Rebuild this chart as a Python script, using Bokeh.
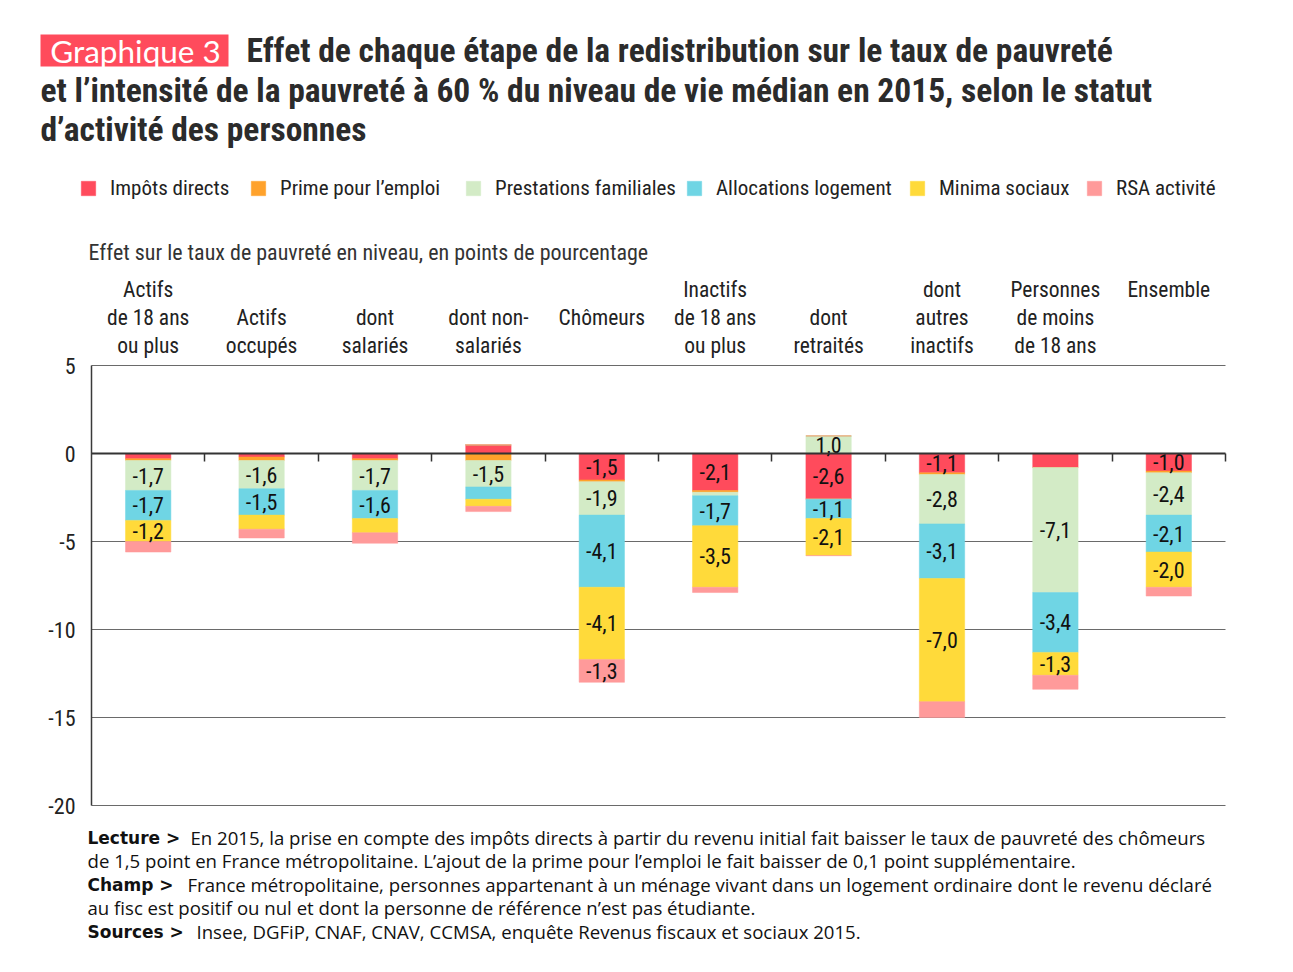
from bokeh.plotting import figure
from bokeh.models import (ColumnDataSource, Range1d, FixedTicker, Label, Legend,
                          LegendItem, LinearAxis, Grid, BoxAnnotation)
from bokeh.embed import file_html
from bokeh.resources import INLINE
from bokeh.core.properties import value

# ---------------- data ----------------
categories = ["Actifs de 18 ans ou plus", "Actifs occupés", "dont salariés",
              "dont non-salariés", "Chômeurs", "Inactifs de 18 ans ou plus",
              "dont retraités", "dont autres inactifs", "Personnes de moins de 18 ans",
              "Ensemble"]
category_label_rows = [
    ["Actifs", "de 18 ans", "ou plus"],
    ["", "Actifs", "occupés"],
    ["", "dont", "salariés"],
    ["", "dont non-", "salariés"],
    ["", "Chômeurs", ""],
    ["Inactifs", "de 18 ans", "ou plus"],
    ["", "dont", "retraités"],
    ["dont", "autres", "inactifs"],
    ["Personnes", "de moins", "de 18 ans"],
    ["Ensemble", "", ""],
]
series_names = ["Impôts directs", "Prime pour l’emploi", "Prestations familiales",
                "Allocations logement", "Minima sociaux", "RSA activité"]
impots_directs = [-0.3, -0.2, -0.3, 0.5, -1.5, -2.1, -2.6, -1.1, -0.8, -1.0]
prime_emploi = [-0.1, -0.2, -0.1, -0.4, -0.1, -0.1, 0.0, -0.1, 0.0, -0.1]
prestations_familiales = [-1.7, -1.6, -1.7, -1.5, -1.9, -0.2, 1.0, -2.8, -7.1, -2.4]
allocations_logement = [-1.7, -1.5, -1.6, -0.7, -4.1, -1.7, -1.1, -3.1, -3.4, -2.1]
minima_sociaux = [-1.2, -0.8, -0.8, -0.4, -4.1, -3.5, -2.1, -7.0, -1.3, -2.0]
rsa_activite = [-0.6, -0.5, -0.6, -0.3, -1.3, -0.3, 0.0, -0.9, -0.8, -0.5]
y_ticks = [5, 0, -5, -10, -15, -20]
y_tick_labels = ["5", "0", "-5", "-10", "-15", "-20"]

series_values = [impots_directs, prime_emploi, prestations_familiales,
                 allocations_logement, minima_sociaux, rsa_activite]
colors = ["#FF4B5C", "#FFA22B", "#D3EBC6", "#6FD5E4", "#FFDA3A", "#FF9A9A"]

NARROW = "Roboto Condensed"
TXT = "#222222"

# ---------------- layout (page pixels) ----------------
W, H = 1290, 965
X_LEFT, X_RIGHT = 91, 1225        # plot area left / right edge
Y_TOP, Y_BOTTOM = 365, 805        # pixel rows of the top and bottom ticks
n = len(categories)
ux = (X_RIGHT - X_LEFT) / n
ymax, ymin = max(y_ticks), min(y_ticks)
uy = (Y_BOTTOM - Y_TOP) / (ymax - ymin)
xs = [i + 0.5 for i in range(n)]


def sy(page_y):
    return H - page_y


p = figure(width=W, height=H, output_backend="svg", toolbar_location=None,
           x_range=Range1d(-X_LEFT / ux, (W - X_LEFT) / ux),
           y_range=Range1d(ymax - (H - Y_TOP) / uy, ymax + Y_TOP / uy),
           x_axis_location=None, y_axis_location=None, title=None,
           min_border_left=0, min_border_right=0, min_border_top=0, min_border_bottom=0)
p.outline_line_color = None
p.background_fill_color = "white"
p.border_fill_color = "white"
# drop the default grids (they would span the whole canvas)
p.center = [r for r in p.center if not isinstance(r, Grid)]

# horizontal grid limited to the plot area
grid = Grid(dimension=1, ticker=FixedTicker(ticks=[t for t in y_ticks if t != 0]),
            grid_line_color="#6a6a6a", grid_line_width=1)
grid.cross_bounds = (0, n)
p.add_layout(grid)

# y axis
yax = LinearAxis(fixed_location=0, ticker=FixedTicker(ticks=y_ticks),
                 bounds=(ymin, ymax))
yax.major_label_overrides = {t: l for t, l in zip(y_ticks, y_tick_labels)}
yax.major_tick_line_color = None
yax.minor_tick_line_color = None
yax.axis_line_color = "#3a3a3a"
yax.axis_line_width = 1.5
yax.major_label_text_font = NARROW
yax.major_label_text_font_size = "22px"
yax.major_label_text_color = TXT
yax.major_label_standoff = 10
p.add_layout(yax, "left")

# stacked bars (positive and negative parts stacked separately)
keys = ["s%d" % k for k in range(len(series_values))]
pos_data = {"x": xs}
neg_data = {"x": xs}
for k, vals in zip(keys, series_values):
    pos_data[k] = [max(v, 0.0) for v in vals]
    neg_data[k] = [min(v, 0.0) for v in vals]

p.vbar_stack(keys, x="x", width=0.4, source=ColumnDataSource(pos_data),
             fill_color=colors, line_color=colors, line_width=0.5)
neg_r = p.vbar_stack(keys, x="x", width=0.4, source=ColumnDataSource(neg_data),
                     fill_color=colors, line_color=colors, line_width=0.5)

# value labels
lx, ly, lt = [], [], []
for i in range(n):
    pos_acc, neg_acc = 0.0, 0.0
    for vals in series_values:
        v = vals[i]
        if v >= 0:
            c = pos_acc + v / 2
            pos_acc += v
        else:
            c = neg_acc + v / 2
            neg_acc += v
        if abs(v) >= 1.0 - 1e-9:
            lx.append(xs[i])
            ly.append(c)
            lt.append(("%.1f" % v).replace(".", ","))
p.text(x="x", y="y", text="t", source=ColumnDataSource(dict(x=lx, y=ly, t=lt)),
       text_align="center", text_baseline="middle", text_font=value(NARROW),
       text_font_size="22px", text_color="#111111")

# zero line with ticks at category boundaries
xax = LinearAxis(fixed_location=0, ticker=FixedTicker(ticks=[i + 1 for i in range(n)]),
                 bounds=(0, n))
xax.axis_line_color = "#333333"
xax.axis_line_width = 2
xax.major_tick_line_color = "#333333"
xax.major_tick_line_width = 1.5
xax.major_tick_in = 0
xax.major_tick_out = 8
xax.minor_tick_line_color = None
xax.major_label_text_alpha = 0
xax.major_label_text_font_size = "1px"
p.add_layout(xax, "below")

# category labels above the plot area
row_y = [289, 317, 345]
cx, cy, ct = [], [], []
for i, rows in enumerate(category_label_rows):
    for r, t in enumerate(rows):
        if t:
            cx.append(xs[i])
            cy.append(ymax + (Y_TOP - row_y[r]) / uy)
            ct.append(t)
p.text(x="x", y="y", text="t", source=ColumnDataSource(dict(x=cx, y=cy, t=ct)),
       text_align="center", text_baseline="middle", text_font=value(NARROW),
       text_font_size="21.5px", text_color=TXT)

# legends
leg_x = [79, 249, 464, 685, 908, 1085]
for k, name in enumerate(series_names):
    leg = Legend(items=[LegendItem(label=name, renderers=[neg_r[k]])],
                 location=(leg_x[k], sy(200)), orientation="horizontal",
                 glyph_width=18, glyph_height=18, label_standoff=13,
                 padding=0, margin=0, spacing=0, border_line_color=None,
                 background_fill_alpha=0, label_text_font=NARROW,
                 label_text_font_size="21px", label_text_color=TXT,
                 label_height=18)
    p.add_layout(leg, "center")

# axis title
p.add_layout(Label(x=88, y=sy(252), x_units="screen", y_units="screen",
                   text="Effet sur le taux de pauvreté en niveau, en points de pourcentage",
                   text_font=NARROW, text_font_size="22px", text_color="#333333",
                   text_baseline="middle"))

# title
p.add_layout(BoxAnnotation(left=40, right=228, top=sy(34), bottom=sy(66),
                           left_units="screen", right_units="screen",
                           top_units="screen", bottom_units="screen",
                           fill_color="#FF4B5C", fill_alpha=1, line_color=None,
                           level="annotation"))
p.add_layout(Label(x=135, y=sy(50), x_units="screen", y_units="screen",
                   text="Graphique 3", text_font="Lato", text_font_size="31.5px",
                   text_color="white", text_align="center", text_baseline="middle"))
title_lines = ["Effet de chaque étape de la redistribution sur le taux de pauvreté",
               "et l’intensité de la pauvreté à 60 % du niveau de vie médian en 2015, selon le statut",
               "d’activité des personnes"]
title_pos = [(246, 50), (40, 90), (40, 129)]
for t, (tx, ty) in zip(title_lines, title_pos):
    p.add_layout(Label(x=tx, y=sy(ty), x_units="screen", y_units="screen", text=t,
                       text_font=NARROW, text_font_size="33.5px", text_font_style="bold",
                       text_color="#2b2b2b", text_baseline="middle"))

# footer
foot_lines = [("Lecture >", "En 2015, la prise en compte des impôts directs à partir du revenu initial fait baisser le taux de pauvreté des chômeurs", 190),
              (None, "de 1,5 point en France métropolitaine. L’ajout de la prime pour l’emploi le fait baisser de 0,1 point supplémentaire.", 87),
              ("Champ >", "France métropolitaine, personnes appartenant à un ménage vivant dans un logement ordinaire dont le revenu déclaré", 187),
              (None, "au fisc est positif ou nul et dont la personne de référence n’est pas étudiante.", 87),
              ("Sources >", "Insee, DGFiP, CNAF, CNAV, CCMSA, enquête Revenus fiscaux et sociaux 2015.", 196)]
foot_y = [837, 860, 884, 907, 931]
for (b, t, off), fy in zip(foot_lines, foot_y):
    if b:
        p.add_layout(Label(x=87, y=sy(fy), x_units="screen", y_units="screen", text=b,
                           text_font="DejaVu Sans", text_font_size="17px",
                           text_font_style="bold", text_color="#111111",
                           text_baseline="middle"))
    p.add_layout(Label(x=off, y=sy(fy), x_units="screen", y_units="screen", text=t,
                       text_font="Open Sans", text_font_size="18.6px",
                       text_color="#111111", text_baseline="middle"))

open("out.html", "w").write(file_html(p, INLINE))
